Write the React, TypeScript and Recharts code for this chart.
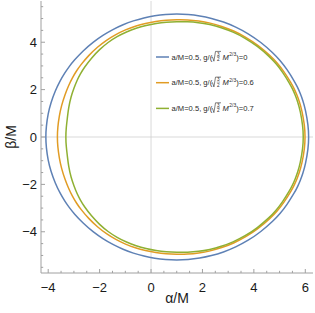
import { ComposedChart, Legend, Line, ReferenceLine, XAxis, YAxis } from "recharts";

// shadow outlines, [alpha/M, beta/M], traced from the right edge over the top and back
const shadowG0: [number, number][] = [
  [6.137, 0], [6.116, 0.481], [6.01, 1.151], [5.905, 1.546], [5.8, 1.852], [5.695, 2.108],
  [5.591, 2.331], [5.28, 2.872], [5.024, 3.228], [4.77, 3.528], [4.268, 4.007], [3.776, 4.371],
  [3.292, 4.649], [2.816, 4.86], [2.35, 5.013], [1.891, 5.117], [1.442, 5.177], [1.0, 5.196],
  [0.567, 5.177], [0.141, 5.123], [-0.277, 5.032], [-0.687, 4.906], [-1.089, 4.743],
  [-1.485, 4.541], [-1.873, 4.297], [-2.255, 4.005], [-2.631, 3.654], [-3.0, 3.227],
  [-3.183, 2.976], [-3.364, 2.691], [-3.544, 2.36], [-3.723, 1.959], [-3.901, 1.431],
  [-4.007, 0.973], [-4.077, 0.45], [-4.098, 0],
  [-4.077, -0.45], [-4.007, -0.973], [-3.901, -1.431], [-3.723, -1.959], [-3.544, -2.36],
  [-3.364, -2.691], [-3.183, -2.976], [-3.0, -3.227], [-2.631, -3.654], [-2.255, -4.005],
  [-1.873, -4.297], [-1.485, -4.541], [-1.089, -4.743], [-0.687, -4.906], [-0.277, -5.032],
  [0.141, -5.123], [0.567, -5.177], [1.0, -5.196], [1.442, -5.177], [1.891, -5.117],
  [2.35, -5.013], [2.816, -4.86], [3.292, -4.649], [3.776, -4.371], [4.268, -4.007],
  [4.77, -3.528], [5.024, -3.228], [5.28, -2.872], [5.591, -2.331], [5.695, -2.108],
  [5.8, -1.852], [5.905, -1.546], [6.01, -1.151], [6.116, -0.481],
];

const shadowG06: [number, number][] = [
  [5.997, 0], [5.976, 0.468], [5.872, 1.119], [5.769, 1.503], [5.666, 1.8], [5.563, 2.049],
  [5.46, 2.265], [5.155, 2.788], [4.904, 3.132], [4.654, 3.42], [4.164, 3.879], [3.682, 4.222],
  [3.211, 4.485], [2.747, 4.676], [2.297, 4.815], [1.853, 4.9], [1.422, 4.948], [1.0, 4.951],
  [0.587, 4.933], [0.182, 4.881], [-0.218, 4.799], [-0.611, 4.684], [-0.994, 4.526],
  [-1.37, 4.33], [-1.734, 4.089], [-2.085, 3.796], [-2.425, 3.447], [-2.751, 3.026],
  [-2.906, 2.779], [-3.058, 2.502], [-3.202, 2.183], [-3.344, 1.802], [-3.488, 1.311],
  [-3.57, 0.888], [-3.63, 0.41], [-3.648, 0],
  [-3.63, -0.41], [-3.57, -0.888], [-3.488, -1.311], [-3.344, -1.802], [-3.202, -2.183],
  [-3.058, -2.502], [-2.906, -2.779], [-2.751, -3.026], [-2.425, -3.447], [-2.085, -3.796],
  [-1.734, -4.089], [-1.37, -4.33], [-0.994, -4.526], [-0.611, -4.684], [-0.218, -4.799],
  [0.182, -4.881], [0.587, -4.933], [1.0, -4.951], [1.422, -4.948], [1.853, -4.9],
  [2.297, -4.815], [2.747, -4.676], [3.211, -4.485], [3.682, -4.222], [4.164, -3.879],
  [4.654, -3.42], [4.904, -3.132], [5.155, -2.788], [5.46, -2.265], [5.563, -2.049],
  [5.666, -1.8], [5.769, -1.503], [5.872, -1.119], [5.976, -0.468],
];

const shadowG07: [number, number][] = [
  [5.927, 0], [5.907, 0.461], [5.806, 1.104], [5.707, 1.484], [5.606, 1.777], [5.505, 2.023],
  [5.406, 2.237], [5.108, 2.757], [4.863, 3.099], [4.617, 3.385], [4.132, 3.84], [3.656, 4.181],
  [3.187, 4.436], [2.728, 4.625], [2.28, 4.752], [1.842, 4.835], [1.416, 4.868], [1.0, 4.866],
  [0.595, 4.848], [0.196, 4.798], [-0.196, 4.712], [-0.58, 4.594], [-0.955, 4.438],
  [-1.322, 4.243], [-1.673, 3.998], [-2.003, 3.695], [-2.317, 3.338], [-2.611, 2.913],
  [-2.747, 2.666], [-2.879, 2.392], [-2.994, 2.074], [-3.113, 1.706], [-3.21, 1.229],
  [-3.252, 0.826], [-3.302, 0.381], [-3.318, 0],
  [-3.302, -0.381], [-3.252, -0.826], [-3.21, -1.229], [-3.113, -1.706], [-2.994, -2.074],
  [-2.879, -2.392], [-2.747, -2.666], [-2.611, -2.913], [-2.317, -3.338], [-2.003, -3.695],
  [-1.673, -3.998], [-1.322, -4.243], [-0.955, -4.438], [-0.58, -4.594], [-0.196, -4.712],
  [0.196, -4.798], [0.595, -4.848], [1.0, -4.866], [1.416, -4.868], [1.842, -4.835],
  [2.28, -4.752], [2.728, -4.625], [3.187, -4.436], [3.656, -4.181], [4.132, -3.84],
  [4.617, -3.385], [4.863, -3.099], [5.108, -2.757], [5.406, -2.237], [5.505, -2.023],
  [5.606, -1.777], [5.707, -1.484], [5.806, -1.104], [5.907, -0.461],
];

const gValues = ["0", "0.6", "0.7"];
const colors = ["#5e81b5", "#e19c24", "#8fb032"];

const xMajor = [-4, -2, 0, 2, 4, 6];
const yMajor = [-4, -2, 0, 2, 4];
const xTicks = [-4, -3.5, -3, -2.5, -2, -1.5, -1, -0.5, 0, 0.5, 1, 1.5, 2, 2.5, 3, 3.5, 4, 4.5, 5, 5.5, 6];
const yTicks = [-5.5, -5, -4.5, -4, -3.5, -3, -2.5, -2, -1.5, -1, -0.5, 0, 0.5, 1, 1.5, 2, 2.5, 3, 3.5, 4, 4.5, 5, 5.5];

const FONT = "'Liberation Sans', Arial, sans-serif";
const FRAME = "#a0a0a0";
const TEXT = "#1a1a1a";

const toRows = (pts: [number, number][]) => pts.map(([a, b]) => ({ a, b }));
const fmt = (v: number) => (v < 0 ? "\u2212" + Math.abs(v) : String(v));

function BottomTick({ x, y, payload }: any) {
  const major = xMajor.includes(payload.value);
  return (
    <g>
      <line x1={x} x2={x} y1={y} y2={y - (major ? 4 : 2.2)} stroke={FRAME} />
      {major && (
        <text x={x} y={y + 18.5} textAnchor="middle" fontSize={13} fontFamily={FONT} fill={TEXT}>
          {fmt(payload.value)}
        </text>
      )}
    </g>
  );
}

function TopTick({ x, y, payload }: any) {
  const major = xMajor.includes(payload.value);
  return <line x1={x} x2={x} y1={y} y2={y + (major ? 4 : 2.2)} stroke={FRAME} />;
}

function LeftTick({ x, y, payload }: any) {
  const major = yMajor.includes(payload.value);
  return (
    <g>
      <line x1={x} x2={x + (major ? 4 : 2.2)} y1={y} y2={y} stroke={FRAME} />
      {major && (
        <text x={x - 4} y={y + 4.6} textAnchor="end" fontSize={13} fontFamily={FONT} fill={TEXT}>
          {fmt(payload.value)}
        </text>
      )}
    </g>
  );
}

function RightTick({ x, y, payload }: any) {
  const major = yMajor.includes(payload.value);
  return <line x1={x} x2={x - (major ? 4 : 2.2)} y1={y} y2={y} stroke={FRAME} />;
}

function LegendRow({ y, color, g }: { y: number; color: string; g: string }) {
  const x0 = 171.5;
  const r = 211.5; // radical start
  return (
    <g fontFamily={FONT} fill="#2a2a2a">
      <line x1={156} x2={169} y1={y} y2={y} stroke={color} strokeWidth={1.5} />
      <text x={x0} y={y + 2.7} fontSize={7.6}>a/M=0.5, g/(</text>
      <path
        d={`M${r} ${y + 0.6} L${r + 1} ${y} L${r + 2.4} ${y + 4.2} L${r + 4} ${y - 5.6} L${r + 9.5} ${y - 5.6}`}
        stroke="#2a2a2a"
        strokeWidth={0.6}
        fill="none"
      />
      <text x={r + 6.9} y={y - 1.4} fontSize={4.6} textAnchor="middle">3</text>
      <line x1={r + 5.3} x2={r + 8.5} y1={y - 0.6} y2={y - 0.6} stroke="#2a2a2a" strokeWidth={0.4} />
      <text x={r + 6.9} y={y + 3.8} fontSize={4.6} textAnchor="middle">2</text>
      <text x={r + 11} y={y + 2.7} fontSize={7.6} fontStyle="italic">M</text>
      <text x={r + 17.8} y={y - 1.2} fontSize={4.9}>2/3</text>
      <text x={r + 24.8} y={y + 2.7} fontSize={7.6}>{`)=${g}`}</text>
    </g>
  );
}

function LegendBox() {
  return (
    <svg width={315} height={313} style={{ display: "block" }}>
      {gValues.map((g, i) => (
        <LegendRow key={g} y={57 + i * 25.7} color={colors[i]} g={g} />
      ))}
    </svg>
  );
}

export default function App() {
  const series = [shadowG0, shadowG06, shadowG07];
  return (
    <div style={{ position: "fixed", left: 0, top: 0, background: "#fff" }}>
      <ComposedChart width={315} height={313} margin={{ top: 1, right: 2, bottom: 0, left: 0 }}>
        <XAxis
          xAxisId="b"
          type="number"
          dataKey="a"
          domain={[-4.28, 6.3]}
          allowDataOverflow
          ticks={xTicks}
          interval={0}
          tickSize={0}
          tickMargin={0}
          tickLine={false}
          height={40}
          axisLine={{ stroke: FRAME }}
          tick={<BottomTick />}
          label={{
            content: ({ viewBox }: any) => (
              <text
                x={viewBox.x + viewBox.width / 2}
                y={viewBox.y + 30}
                textAnchor="middle"
                fontSize={14}
                fontFamily={FONT}
                fill={TEXT}
              >
                α/M
              </text>
            ),
          }}
        />
        <XAxis
          xAxisId="t"
          orientation="top"
          type="number"
          domain={[-4.28, 6.3]}
          allowDataOverflow
          ticks={xTicks}
          interval={0}
          tickSize={0}
          tickMargin={0}
          tickLine={false}
          height={0}
          axisLine={{ stroke: FRAME }}
          tick={<TopTick />}
        />
        <YAxis
          yAxisId="l"
          type="number"
          dataKey="b"
          domain={[-5.74, 5.74]}
          allowDataOverflow
          ticks={yTicks}
          interval={0}
          tickSize={0}
          tickMargin={0}
          tickLine={false}
          width={41}
          axisLine={{ stroke: FRAME }}
          tick={<LeftTick />}
          label={{
            content: ({ viewBox }: any) => {
              const cx = viewBox.x + 15.5;
              const cy = viewBox.y + viewBox.height / 2;
              return (
                <text
                  x={cx}
                  y={cy}
                  textAnchor="middle"
                  fontSize={14}
                  fontFamily={FONT}
                  fill={TEXT}
                  transform={`rotate(-90 ${cx} ${cy})`}
                >
                  β/M
                </text>
              );
            },
          }}
        />
        <YAxis
          yAxisId="r"
          orientation="right"
          type="number"
          domain={[-5.74, 5.74]}
          allowDataOverflow
          ticks={yTicks}
          interval={0}
          tickSize={0}
          tickMargin={0}
          tickLine={false}
          width={0}
          axisLine={{ stroke: FRAME }}
          tick={<RightTick />}
        />
        <ReferenceLine xAxisId="b" yAxisId="l" x={0} stroke="#cfcfcf" strokeWidth={0.8} />
        <ReferenceLine xAxisId="b" yAxisId="l" y={0} stroke="#cfcfcf" strokeWidth={0.8} />
        {series.map((pts, i) => (
          <Line
            key={gValues[i]}
            xAxisId="b"
            yAxisId="l"
            data={toRows(pts)}
            dataKey="b"
            type="basisClosed"
            stroke={colors[i]}
            strokeWidth={1.5}
            dot={false}
            activeDot={false}
            isAnimationActive={false}
          />
        ))}
        <Legend
          layout="vertical"
          align="center"
          verticalAlign="middle"
          content={<LegendBox />}
          wrapperStyle={{ left: 0, top: 0, width: 315, height: 313, pointerEvents: "none" }}
        />
      </ComposedChart>
    </div>
  );
}
